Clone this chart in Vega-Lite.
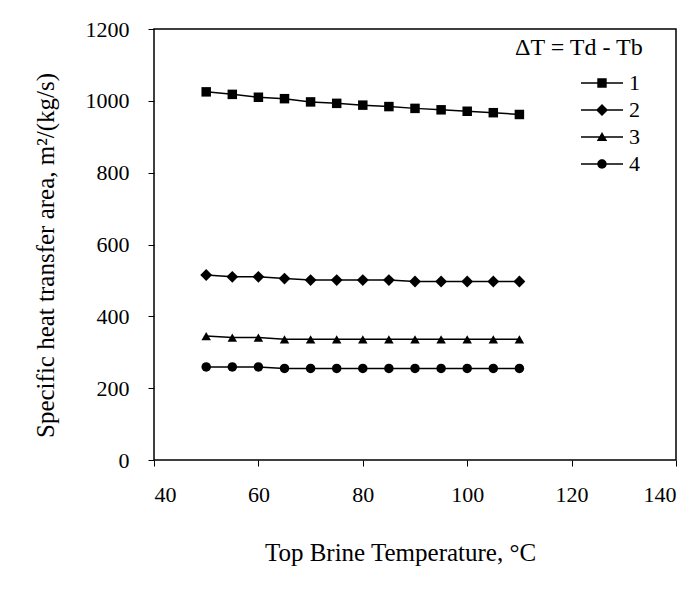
{
  "$schema": "https://vega.github.io/schema/vega-lite/v6.json",
  "width": 522,
  "height": 431,
  "autosize": "none",
  "padding": {"left": 154, "top": 29, "right": 22, "bottom": 132},
  "background": "white",
  "config": {
    "font": "Liberation Serif",
    "view": {"stroke": "black", "strokeWidth": 1.5},
    "axis": {
      "grid": false,
      "domain": false,
      "tickColor": "black",
      "tickSize": 6,
      "tickWidth": 1,
      "labelFont": "Liberation Serif",
      "labelFontSize": 22,
      "labelColor": "black",
      "titleFont": "Liberation Serif",
      "titleFontSize": 25,
      "titleFontWeight": "normal",
      "titleColor": "black"
    }
  },
  "data": {
    "values": [
      {"t": 50, "a": 1025, "s": "1"}, {"t": 55, "a": 1018, "s": "1"}, {"t": 60, "a": 1010, "s": "1"}, {"t": 65, "a": 1006, "s": "1"}, {"t": 70, "a": 997, "s": "1"}, {"t": 75, "a": 993, "s": "1"}, {"t": 80, "a": 988, "s": "1"}, {"t": 85, "a": 984, "s": "1"}, {"t": 90, "a": 979, "s": "1"}, {"t": 95, "a": 975, "s": "1"}, {"t": 100, "a": 971, "s": "1"}, {"t": 105, "a": 967, "s": "1"}, {"t": 110, "a": 962, "s": "1"},
      {"t": 50, "a": 515, "s": "2"}, {"t": 55, "a": 510, "s": "2"}, {"t": 60, "a": 510, "s": "2"}, {"t": 65, "a": 505, "s": "2"}, {"t": 70, "a": 501, "s": "2"}, {"t": 75, "a": 501, "s": "2"}, {"t": 80, "a": 501, "s": "2"}, {"t": 85, "a": 501, "s": "2"}, {"t": 90, "a": 497, "s": "2"}, {"t": 95, "a": 497, "s": "2"}, {"t": 100, "a": 497, "s": "2"}, {"t": 105, "a": 497, "s": "2"}, {"t": 110, "a": 497, "s": "2"},
      {"t": 50, "a": 345, "s": "3"}, {"t": 55, "a": 341, "s": "3"}, {"t": 60, "a": 341, "s": "3"}, {"t": 65, "a": 336, "s": "3"}, {"t": 70, "a": 336, "s": "3"}, {"t": 75, "a": 336, "s": "3"}, {"t": 80, "a": 336, "s": "3"}, {"t": 85, "a": 336, "s": "3"}, {"t": 90, "a": 336, "s": "3"}, {"t": 95, "a": 336, "s": "3"}, {"t": 100, "a": 336, "s": "3"}, {"t": 105, "a": 336, "s": "3"}, {"t": 110, "a": 336, "s": "3"},
      {"t": 50, "a": 259, "s": "4"}, {"t": 55, "a": 259, "s": "4"}, {"t": 60, "a": 259, "s": "4"}, {"t": 65, "a": 255, "s": "4"}, {"t": 70, "a": 255, "s": "4"}, {"t": 75, "a": 255, "s": "4"}, {"t": 80, "a": 255, "s": "4"}, {"t": 85, "a": 255, "s": "4"}, {"t": 90, "a": 255, "s": "4"}, {"t": 95, "a": 255, "s": "4"}, {"t": 100, "a": 255, "s": "4"}, {"t": 105, "a": 255, "s": "4"}, {"t": 110, "a": 255, "s": "4"}
    ]
  },
  "encoding": {
    "x": {
      "field": "t", "type": "quantitative",
      "scale": {"domain": [40, 140], "nice": false, "zero": false},
      "axis": {"values": [40, 60, 80, 100, 120, 140], "format": "d", "labelPadding": 18, "titlePadding": 35, "titleX": 246, "title": "Top Brine Temperature, °C"}
    },
    "y": {
      "field": "a", "type": "quantitative",
      "scale": {"domain": [0, 1200], "nice": false},
      "axis": {"values": [0, 200, 400, 600, 800, 1000, 1200], "format": "d", "labelPadding": 19, "titlePadding": 27, "titleY": 226, "title": "Specific heat transfer area, m²/(kg/s)"}
    }
  },
  "resolve": {"scale": {"shape": "independent"}, "legend": {"shape": "independent"}},
  "layer": [
    {
      "mark": {"type": "line", "color": "black", "strokeWidth": 1.5},
      "encoding": {"detail": {"field": "s"}}
    },
    {
      "mark": {"type": "point", "filled": true, "color": "black", "opacity": 1, "size": 90},
      "encoding": {
        "shape": {
          "field": "s", "type": "nominal",
          "scale": {"domain": ["1", "2", "3", "4"], "range": ["square", "M-1.25,0L0,-1.25L1.25,0L0,1.25Z", "triangle-up", "circle"]},
          "legend": null
        }
      }
    },
    {
      "transform": [{"filter": "datum.t < 0"}],
      "mark": {"type": "point", "filled": true, "color": "black", "opacity": 1},
      "encoding": {
        "shape": {
          "field": "s", "type": "nominal",
          "scale": {"domain": ["1", "2", "3", "4"], "range": [
            "M-2.1,-0.075H2.1V0.075H-2.1Z M-0.47,-0.47H0.47V0.47H-0.47Z",
            "M-2.1,-0.075H2.1V0.075H-2.1Z M-0.6,0L0,-0.6L0.6,0L0,0.6Z",
            "M-2.1,-0.075H2.1V0.075H-2.1Z M0,-0.5L0.52,0.4H-0.52Z",
            "M-2.1,-0.075H2.1V0.075H-2.1Z M-0.47,0A0.47,0.47 0 1,1 0.47,0A0.47,0.47 0 1,1 -0.47,0Z"
          ]},
          "legend": {
            "orient": "none",
            "legendX": 361,
            "legendY": 7,
            "padding": 0,
            "title": "ΔT = Td - Tb",
            "titleFont": "Liberation Serif",
            "titleFontSize": 24,
            "titleFontWeight": "normal",
            "titleColor": "black",
            "titlePadding": 12,
            "labelFont": "Liberation Serif",
            "labelFontSize": 22,
            "labelColor": "black",
            "labelOffset": 16,
            "symbolSize": 400,
            "symbolOffset": 76,
            "symbolStrokeWidth": 0,
            "symbolFillColor": "black",
            "rowPadding": 5
          }
        }
      }
    }
  ]
}
